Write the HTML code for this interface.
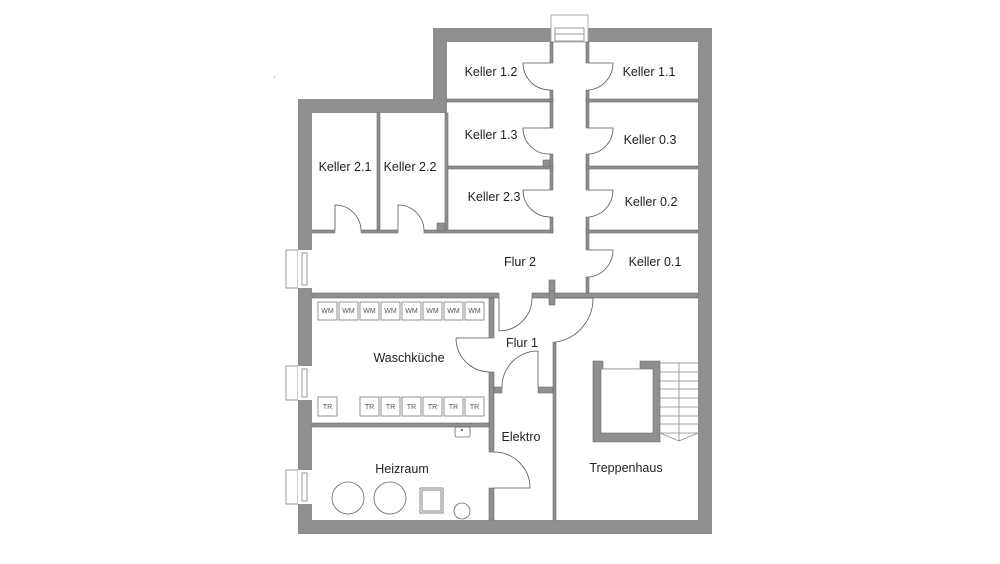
<!DOCTYPE html>
<html><head><meta charset="utf-8"><style>
html,body{margin:0;padding:0;background:#fff;}
svg{display:block;}
text{font-family:"Liberation Sans",sans-serif;font-size:12.5px;fill:#222;}
.s{font-size:7px;fill:#555;}
</style></head><body>
<svg width="1000" height="564" viewBox="0 0 1000 564" xmlns="http://www.w3.org/2000/svg">
<rect width="1000" height="564" fill="#fff"/>
<!-- outer walls -->
<path d="M433 28H712V534H298V99H433Z" fill="#8f8f8f"/>
<path d="M447 42H698V520H312V113H447Z" fill="#fff"/>
<!-- top window -->
<rect x="551" y="15" width="37" height="27" fill="#fff" stroke="#aaa" stroke-width="1"/>
<rect x="555" y="28" width="29" height="13" fill="#fff" stroke="#999"/>
<line x1="555" y1="34" x2="584" y2="34" stroke="#999"/>
<!-- left windows -->
<g fill="#fff" stroke="#999" stroke-width="1">
<rect x="286" y="250" width="12" height="38"/><rect x="298" y="250" width="14" height="38" stroke="none"/><rect x="302" y="253" width="5" height="32"/>
<rect x="286" y="366" width="12" height="34"/><rect x="298" y="366" width="14" height="34" stroke="none"/><rect x="302" y="369" width="5" height="28"/>
<rect x="286" y="470" width="12" height="34"/><rect x="298" y="470" width="14" height="34" stroke="none"/><rect x="302" y="473" width="5" height="28"/>
</g>
<!-- interior walls -->
<g fill="#8f8f8f" stroke="#6a6a6a" stroke-width="0.6">
<!-- corridor left wall -->
<rect x="550" y="42" width="3" height="21"/>
<rect x="550" y="90" width="3" height="38"/>
<rect x="550" y="154" width="3" height="36"/>
<rect x="550" y="217" width="3" height="16"/>
<!-- corridor right wall -->
<rect x="586" y="42" width="3" height="21"/>
<rect x="586" y="90" width="3" height="38"/>
<rect x="586" y="154" width="3" height="36"/>
<rect x="586" y="217" width="3" height="33"/>
<rect x="586" y="277" width="3" height="17"/>
<!-- horizontal walls left block -->
<rect x="447" y="99" width="106" height="3"/>
<rect x="447" y="166" width="106" height="3"/>
<rect x="312" y="230" width="23" height="3"/>
<rect x="361" y="230" width="37" height="3"/>
<rect x="424" y="230" width="129" height="3"/>
<!-- right block -->
<rect x="586" y="99" width="112" height="3"/>
<rect x="586" y="166" width="112" height="3"/>
<rect x="586" y="230" width="112" height="3"/>
<!-- verticals -->
<rect x="377" y="113" width="3" height="117"/>
<rect x="445" y="113" width="3" height="117"/>
<!-- Flur1 walls -->
<rect x="312" y="293" width="187" height="5"/>
<rect x="532" y="293" width="166" height="5"/>
<rect x="549" y="280" width="6" height="25"/>
<rect x="489" y="298" width="5" height="40"/>
<rect x="489" y="372" width="5" height="80"/>
<rect x="489" y="488" width="5" height="32"/>
<rect x="553" y="342" width="3" height="178"/>
<rect x="494" y="387" width="8" height="6"/>
<rect x="538" y="387" width="15" height="6"/>
<rect x="312" y="423" width="177" height="4"/>
<!-- small squares -->
<rect x="543" y="160" width="7" height="7"/>
<rect x="437" y="223" width="8" height="8"/>
</g>
<!-- doors -->
<g fill="none" stroke="#555" stroke-width="0.8">
<path d="M550 63H523A27 27 0 0 0 550 90"/>
<path d="M550 128H523A26 26 0 0 0 550 154"/>
<path d="M550 190H523A27 27 0 0 0 550 217"/>
<path d="M589 63H613A27 27 0 0 1 589 90"/>
<path d="M589 128H613A26 26 0 0 1 589 154"/>
<path d="M589 190H613A27 27 0 0 1 589 217"/>
<path d="M589 250H613A27 27 0 0 1 589 277"/>
<path d="M335 230V205A26 26 0 0 1 361 230"/>
<path d="M398 230V205A26 26 0 0 1 424 230"/>
<path d="M499 298V331A33 33 0 0 0 532 298"/>
<path d="M556 298H593A44 44 0 0 1 556 342"/>
<path d="M489 338H456A34 34 0 0 0 489 372"/>
<path d="M538 387V351A36 36 0 0 0 502 387"/>
<path d="M494 452A36 36 0 0 1 530 488H494"/>
</g>
<!-- stair -->
<path d="M593 361H603V369H640V361H660V442H593Z" fill="#8f8f8f" stroke="#6a6a6a" stroke-width="0.6"/>
<rect x="601" y="369" width="52" height="64" fill="#fff" stroke="#6a6a6a" stroke-width="0.6"/>
<g stroke="#888" stroke-width="0.8" fill="none">
<path d="M660 363H698M660 372H698M660 381H698M660 389H698M660 398H698M660 407H698M660 416H698M660 424H698M660 433H698M679 363V441M660 433L679 441L698 433"/>
</g>
<!-- WM / TR -->
<g fill="#fff" stroke="#777" stroke-width="0.8">
<rect x="318" y="302" width="19" height="18"/><rect x="339" y="302" width="19" height="18"/><rect x="360" y="302" width="19" height="18"/><rect x="381" y="302" width="19" height="18"/><rect x="402" y="302" width="19" height="18"/><rect x="423" y="302" width="19" height="18"/><rect x="444" y="302" width="19" height="18"/><rect x="465" y="302" width="19" height="18"/>
<rect x="318" y="397" width="19" height="19"/><rect x="360" y="397" width="19" height="19"/><rect x="381" y="397" width="19" height="19"/><rect x="402" y="397" width="19" height="19"/><rect x="423" y="397" width="19" height="19"/><rect x="444" y="397" width="19" height="19"/><rect x="465" y="397" width="19" height="19"/>
</g>
<g class="s" text-anchor="middle">
<text class="s" x="327.5" y="313">WM</text><text class="s" x="348.5" y="313">WM</text><text class="s" x="369.5" y="313">WM</text><text class="s" x="390.5" y="313">WM</text><text class="s" x="411.5" y="313">WM</text><text class="s" x="432.5" y="313">WM</text><text class="s" x="453.5" y="313">WM</text><text class="s" x="474.5" y="313">WM</text>
<text class="s" x="327.5" y="409">TR</text><text class="s" x="369.5" y="409">TR</text><text class="s" x="390.5" y="409">TR</text><text class="s" x="411.5" y="409">TR</text><text class="s" x="432.5" y="409">TR</text><text class="s" x="453.5" y="409">TR</text><text class="s" x="474.5" y="409">TR</text>
</g>
<!-- Heizraum objects -->
<g fill="none" stroke="#666" stroke-width="0.8">
<circle cx="348" cy="498" r="16"/><circle cx="390" cy="498" r="16"/>
<rect x="420" y="488" width="23" height="25"/><rect x="422" y="490" width="19" height="21"/>
<circle cx="462" cy="511" r="8"/>
<rect x="455" y="427" width="15" height="10" rx="2"/>
</g>
<circle cx="462" cy="430" r="1" fill="#444"/>
<!-- labels -->
<g text-anchor="middle">
<text x="491" y="76">Keller 1.2</text>
<text x="649" y="76">Keller 1.1</text>
<text x="491" y="139">Keller 1.3</text>
<text x="650" y="144">Keller 0.3</text>
<text x="494" y="201">Keller 2.3</text>
<text x="651" y="206">Keller 0.2</text>
<text x="345" y="171">Keller 2.1</text>
<text x="410" y="171">Keller 2.2</text>
<text x="520" y="266">Flur 2</text>
<text x="655" y="266">Keller 0.1</text>
<text x="522" y="347">Flur 1</text>
<text x="409" y="362">Waschküche</text>
<text x="521" y="441">Elektro</text>
<text x="402" y="473">Heizraum</text>
<text x="626" y="472">Treppenhaus</text>
</g>
<rect x="274" y="76" width="1" height="2" fill="#bbb"/>
</svg>
</body></html>
